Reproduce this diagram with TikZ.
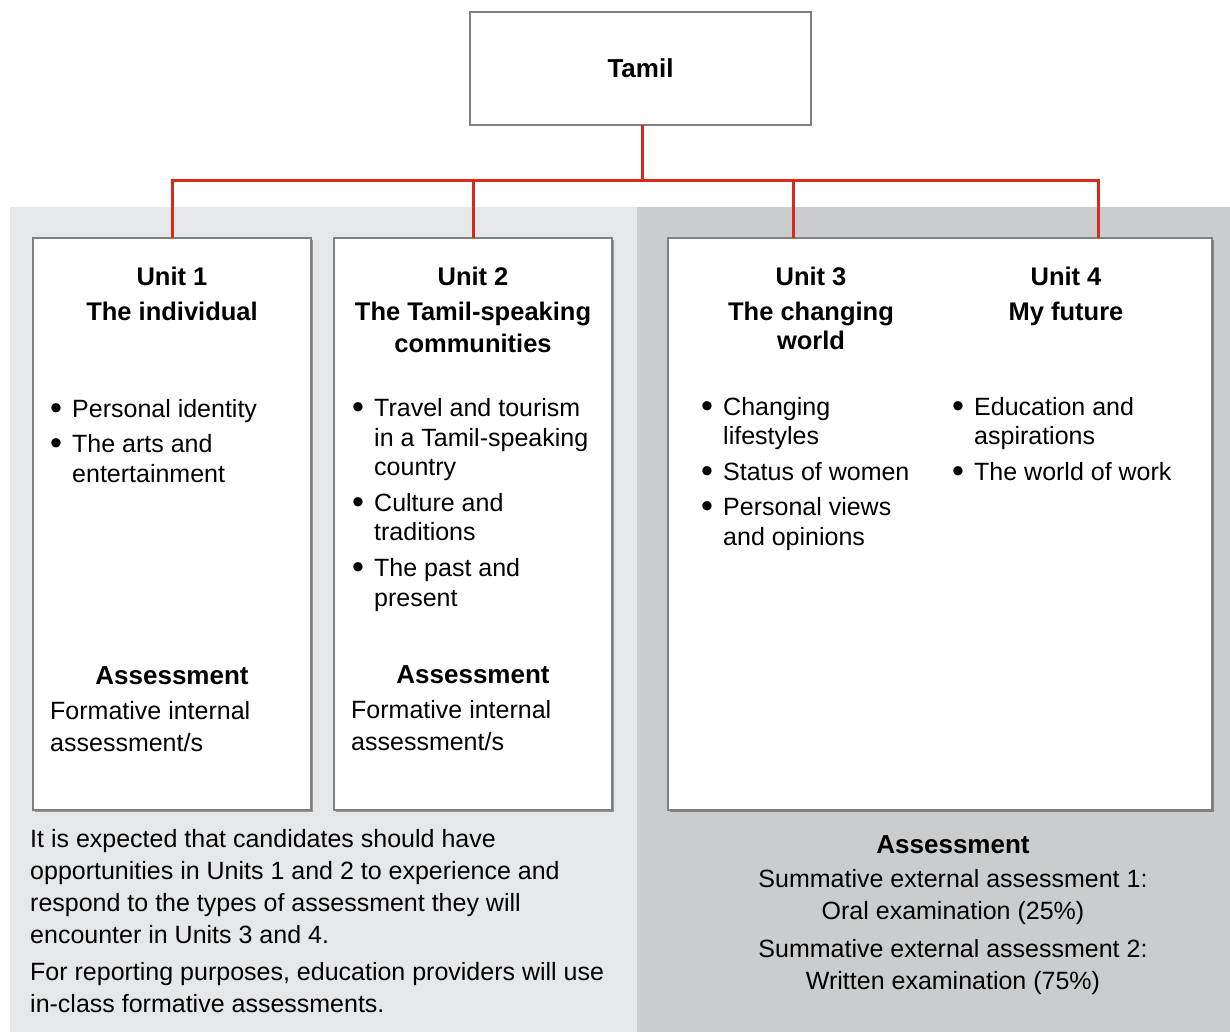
\documentclass[tikz,border=0pt]{standalone}
\usepackage{fontspec}
\setmainfont{Liberation Sans}
\usetikzlibrary{shadows}
\definecolor{redline}{HTML}{D52B1E}
\definecolor{panelA}{HTML}{E6E7E9}
\definecolor{panelB}{HTML}{CBCCCE}
\definecolor{boxborder}{HTML}{808080}
\begin{document}
\begin{tikzpicture}[x=1pt,y=-1pt,
  unitbox/.style={draw=boxborder, line width=2pt, fill=white, anchor=north west, inner sep=0, outer sep=0,
    drop shadow={shadow xshift=1.5pt, shadow yshift=-2pt, opacity=0.35, fill=black}},
  topbox/.style={draw=boxborder, line width=2.5pt, fill=white, anchor=north west, inner sep=0, outer sep=0},
  conn/.style={draw=redline, line width=3pt},
  head/.style={font=\fontsize{25.5}{30}\selectfont\bfseries, anchor=base, inner sep=0},
  asshead/.style={font=\fontsize{26}{30}\selectfont\bfseries, anchor=base, inner sep=0},
  body/.style={font=\fontsize{25}{30}\selectfont, anchor=base west, inner sep=0},
  bodyc/.style={font=\fontsize{25}{30}\selectfont, anchor=base, inner sep=0},
  bul/.style={font=\fontsize{34}{30}\selectfont, anchor=base, inner sep=0}
]
\useasboundingbox (0,0) rectangle (1230,1032);
% background panels
\fill[panelA] (10,207) rectangle (637,1032);
\fill[panelB] (637,207) rectangle (1230,1032);

% boxes
\node[topbox, minimum width=341, minimum height=113] (tamil) at (470,12) {};
\node[font=\fontsize{26}{30}\selectfont\bfseries, inner sep=0] (tamiltxt) at (tamil.center) {Tamil};
\node[unitbox, minimum width=278, minimum height=572] (u1) at (33,238) {};
\node[unitbox, minimum width=278, minimum height=572] (u2) at (334,238) {};
\node[unitbox, minimum width=544, minimum height=572] (u34) at (668,238) {};

% connectors
\coordinate (busL) at (172,181);
\coordinate (busR) at (1098,181);
\coordinate (d3) at (793,181);
\draw[conn] (tamil.south -| 642,0) -- (642,181);
\draw[conn, line cap=rect] (busL) -- (busR);
\draw[conn] (busL) -- (u1.north);
\draw[conn] (u2.north |- busL) -- (u2.north);
\draw[conn] (d3) -- (d3 |- u34.north);
\draw[conn] (busR) -- (busR |- u34.north);

% Unit 1
\node[head] (u1h1) at (172,285) {Unit 1};
\node[head] (u1h2) at (172,320) {The individual};
\node[bul] (u1b1) at (56,419) {\textbullet};
\node[body] (u1i1) at (72,417) {Personal identity};
\node[bul] (u1b2) at (56,454) {\textbullet};
\node[body] (u1i2a) at (72,452) {The arts and};
\node[body] (u1i2b) at (72,482) {entertainment};
\node[asshead] (u1ah) at (172,684) {Assessment};
\node[body] (u1a1) at (50,719) {Formative internal};
\node[body] (u1a2) at (50,751) {assessment/s};

% Unit 2
\node[head] (u2h1) at (473,285) {Unit 2};
\node[head] (u2h2) at (473,320) {The Tamil-speaking};
\node[head] (u2h3) at (473,352) {communities};
\node[bul] (u2b1) at (358,418) {\textbullet};
\node[body] (u2i1a) at (374,416) {Travel and tourism};
\node[body] (u2i1b) at (374,446) {in a Tamil-speaking};
\node[body] (u2i1c) at (374,475) {country};
\node[bul] (u2b2) at (358,513) {\textbullet};
\node[body] (u2i2a) at (374,511) {Culture and};
\node[body] (u2i2b) at (374,540) {traditions};
\node[bul] (u2b3) at (358,578) {\textbullet};
\node[body] (u2i3a) at (374,576) {The past and};
\node[body] (u2i3b) at (374,606) {present};
\node[asshead] (u2ah) at (473,683) {Assessment};
\node[body] (u2a1) at (351,718) {Formative internal};
\node[body] (u2a2) at (351,750) {assessment/s};

% Unit 3
\node[head] (u3h1) at (811,285) {Unit 3};
\node[head] (u3h2) at (811,320) {The changing};
\node[head] (u3h3) at (811,349) {world};
\node[bul] (u3b1) at (707,417) {\textbullet};
\node[body] (u3i1a) at (723,415) {Changing};
\node[body] (u3i1b) at (723,444) {lifestyles};
\node[bul] (u3b2) at (707,482) {\textbullet};
\node[body] (u3i2) at (723,480) {Status of women};
\node[bul] (u3b3) at (707,517) {\textbullet};
\node[body] (u3i3a) at (723,515) {Personal views};
\node[body] (u3i3b) at (723,545) {and opinions};

% Unit 4
\node[head] (u4h1) at (1066,285) {Unit 4};
\node[head] (u4h2) at (1066,320) {My future};
\node[bul] (u4b1) at (958,417) {\textbullet};
\node[body] (u4i1a) at (974,415) {Education and};
\node[body] (u4i1b) at (974,444) {aspirations};
\node[bul] (u4b2) at (958,482) {\textbullet};
\node[body] (u4i2) at (974,480) {The world of work};

% left note
\node[body] (n1) at (30,847) {It is expected that candidates should have};
\node[body] (n2) at (30,879) {opportunities in Units 1 and 2 to experience and};
\node[body] (n3) at (30,911) {respond to the types of assessment they will};
\node[body] (n4) at (30,943) {encounter in Units 3 and 4.};
\node[body] (n5) at (30,980) {For reporting purposes, education providers will use};
\node[body] (n6) at (30,1012) {in-class formative assessments.};

% right assessment
\node[asshead] (rah) at (953,853) {Assessment};
\node[bodyc] (ra1) at (953,887) {Summative external assessment 1:};
\node[bodyc] (ra2) at (953,919) {Oral examination (25\%)};
\node[bodyc] (ra3) at (953,957) {Summative external assessment 2:};
\node[bodyc] (ra4) at (953,989) {Written examination (75\%)};
\end{tikzpicture}
\end{document}
